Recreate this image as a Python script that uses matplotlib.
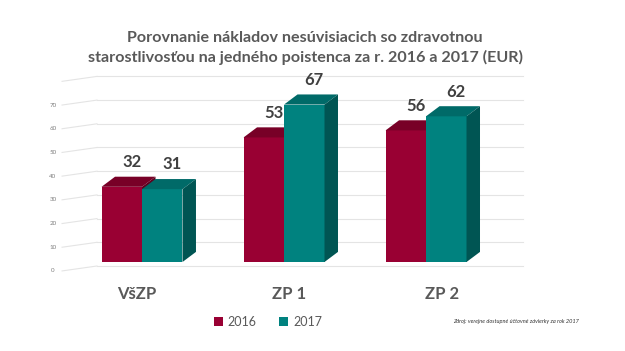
import matplotlib.pyplot as plt
from matplotlib.patches import Polygon, Rectangle, Patch

categories = ["VšZP", "ZP 1", "ZP 2"]
years = ["2016", "2017"]
values2016 = [32, 53, 56]
values2017 = [31, 67, 62]
yTicks = [0, 10, 20, 30, 40, 50, 60, 70]

title = "Porovnanie nákladov nesúvisiacich so zdravotnou\nstarostlivosťou na jedného poistenca za r. 2016 a 2017 (EUR)"
source = "Zdroj: verejne dostupné účtovné závierky za rok 2017"

# front, top, side colours per year
colors = {
    "2016": ("#990033", "#780027", "#5e001e"),
    "2017": ("#00827f", "#006a68", "#005553"),
}

plt.rcParams['font.family'] = ['Lato', 'DejaVu Sans']

fig = plt.figure(figsize=(6.25, 3.51), dpi=100)
ax = fig.add_axes([0, 0, 1, 1])
ax.set_xlim(-1, 3.401)
ax.set_ylim(-37.87, 111.49)
ax.axis("off")

w = 0.285
dx = 0.095
dy = 4.3

# back wall grid with slanted connectors to the labels
wallLeft, wallRight, labelX = -0.317, 2.683, -0.627
for k in range(len(yTicks) + 1):
    t = 10 * k
    gy = t * 1.0085 - 1.7
    ly = gy - 2.1
    ax.plot([wallLeft, wallRight], [gy, gy], color="#e4e4e4", lw=0.8, zorder=1)
    ax.plot([-0.563, wallLeft], [ly, gy], color="#e4e4e4", lw=0.8, zorder=1)
    if t in yTicks:
        ax.text(labelX, ly, str(t), fontsize=4.5, color="#7f7f7f", ha="center", va="center")

for i, cat in enumerate(categories):
    for s, (year, vals) in enumerate(zip(years, [values2016, values2017])):
        v = vals[i]
        front, top, side = colors[year]
        x0 = i - w + s * w
        z = 3 + s
        ax.add_patch(Rectangle((x0, 0), w, v, facecolor=front, edgecolor="none", zorder=z))
        ax.add_patch(Polygon([(x0, v), (x0 + w, v), (x0 + w + dx, v + dy), (x0 + dx, v + dy)],
                             closed=True, facecolor=top, edgecolor="none", zorder=z))
        ax.add_patch(Polygon([(x0 + w, 0), (x0 + w + dx, dy), (x0 + w + dx, v + dy), (x0 + w, v)],
                             closed=True, facecolor=side, edgecolor="none", zorder=z))
        ax.text(x0 + w / 2 + 0.07, v + 10.5, str(v), fontsize=12, fontweight="bold",
                color="#404040", ha="center", va="center", zorder=6)
    ax.text(i * 1.077 - 0.04, -13.6, cat, fontsize=12, fontweight="bold",
            color="#595959", ha="center", va="center")

fig.text(305 / 625, 1 - 48 / 351, title, fontsize=11.6, fontweight="bold", color="#595959",
         ha="center", va="center", linespacing=1.4)

handles = [Patch(facecolor=colors[y][0], label=y) for y in years]
fig.legend(handles=handles, loc="center", bbox_to_anchor=(268 / 625, 1 - 322 / 351), ncol=2,
           frameon=False, fontsize=9, handlelength=0.7, handleheight=0.7, handletextpad=0.4,
           columnspacing=1.8, labelcolor="#595959")

fig.text(453 / 625, 1 - 321 / 351, source, fontsize=4.1, style="italic", color="#333333",
         ha="left", va="center")

fig.savefig("out.png", dpi=100)
